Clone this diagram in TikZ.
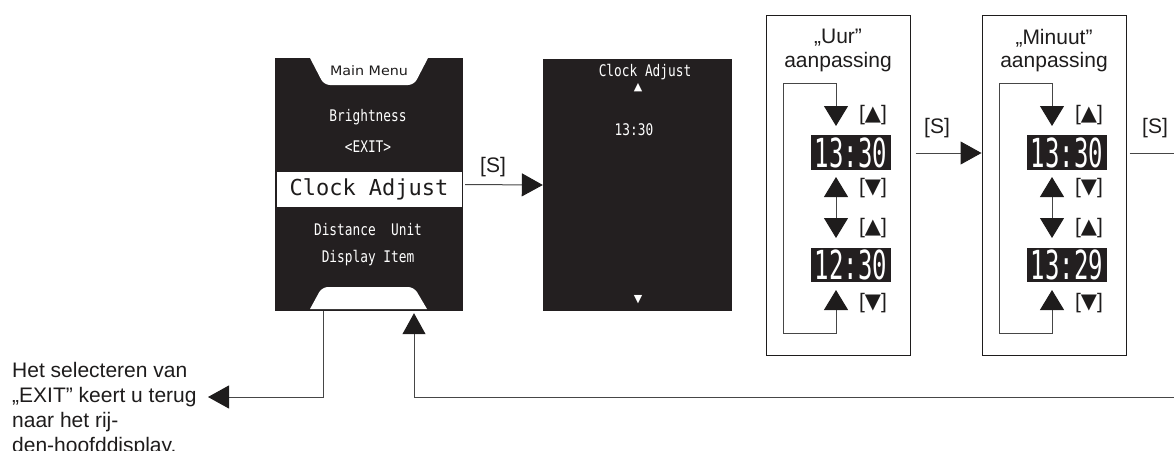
\documentclass[tikz,border=0pt]{standalone}
\usepackage{fontspec}
\setmainfont{Liberation Sans}
\newfontfamily\lcd[FakeStretch=0.8]{DejaVu Sans Mono}
\newfontfamily\lcdn[FakeStretch=0.6]{DejaVu Sans Mono}
\newfontfamily\lcdw{DejaVu Sans Mono}
\newfontfamily\symf{DejaVu Sans}
\newfontfamily\mmf[FakeStretch=1.1]{DejaVu Sans}
\usetikzlibrary{arrows.meta}
\definecolor{scr}{RGB}{35,31,32}
\definecolor{ln}{RGB}{70,70,70}
\definecolor{ink}{RGB}{30,28,28}
\begin{document}
\begin{tikzpicture}[x=1pt,y=-1pt,
  screen/.style={fill=scr,draw=none,inner sep=0,minimum width=188pt,minimum height=253pt},
  frame/.style={draw=ink,line width=1pt,inner sep=0,minimum width=144pt,minimum height=340pt},
  digits/.style={fill=scr,text=white,inner sep=0,minimum width=80pt,minimum height=35pt,font=\lcdn\fontsize{40}{40}\selectfont},
  lcdtxt/.style={text=white,inner sep=0,font=\lcd\fontsize{16}{18}\selectfont},
  tri/.style={text=white,inner sep=0,font=\symf\fontsize{11}{11}\selectfont},
  lbl/.style={text=ink,inner sep=0,font=\fontsize{21}{25}\selectfont},
  wire/.style={draw=ln,line width=1pt},
  big/.style={wire,-{Triangle[length=21pt,width=23pt,color=ink]}},
  dbl/.style={wire,{Triangle[length=20pt,width=24pt,color=ink]}-{Triangle[length=20pt,width=24pt,color=ink]}}]
\useasboundingbox (0,0) rectangle (1174,450);

% main menu screen
\node[screen] (ms) at (369,184.5) {};
\fill[white] (310,58) [rounded corners=6pt]-- (324,85) -- (414,85) [sharp corners]-- (428,58) -- cycle;
\fill[white] (310,309) [rounded corners=6pt]-- (322,287) -- (414,287) [sharp corners]-- (427,309) -- cycle;
\node[font=\mmf\fontsize{13}{13}\selectfont,text=ink,inner sep=0] (mm) at (369,71) {Main Menu};
\node[lcdtxt] (m1) at (368,117) {Brightness};
\node[lcdtxt] (m2) at (368,147) {<EXIT>};
\node[fill=white,minimum width=185pt,minimum height=35pt,inner sep=0,text=ink,font=\lcdw\fontsize{22}{22}\selectfont] (sel) at (369,189.5) {Clock Adjust};
\node[lcdtxt] (m4) at (368,230) {Distance\ \ Unit};
\node[lcdtxt] (m5) at (368,258) {Display Item};

% clock adjust screen
\node[screen,minimum width=189pt,minimum height=252pt] (cs) at (637.5,185) {};
\node[lcdtxt] (c1) at (645,72) {Clock Adjust};
\node[tri] (c2) at (638,88) {▲};
\node[lcdtxt] (c3) at (634,130) {13:30};
\node[tri] (c4) at (638,300) {▼};

\draw[big,shorten <=2pt] (ms.east) -- (cs.west);
\node[lbl] (s1) at (493,167) {[S]};

% adjustment boxes
\node[frame] (ub) at (838,185) {};
\node[frame] (mb) at (1054,185) {};
\node[lbl] (ut1) at (838,38) {„Uur”};
\node[lbl] (ut2) at (838,62) {aanpassing};
\node[lbl] (mt1) at (1054,38) {„Minuut”};
\node[lbl] (mt2) at (1054,62) {aanpassing};

\foreach \dx/\ta/\tb/\nm in {0/13:30/12:30/u, 216/13:30/13:29/m} {
  \node[digits] (\nm d1) at (851+\dx,152.5) {\ta};
  \node[digits,minimum height=34pt] (\nm d2) at (851+\dx,265) {\tb};
  \coordinate (\nm t1) at (836+\dx,126);
  \coordinate (\nm t2) at (836+\dx,177);
  \coordinate (\nm t3) at (836+\dx,238);
  \coordinate (\nm t4) at (836+\dx,290);
  \coordinate (\nm lc) at (783+\dx,83);
  \draw[dbl] (\nm t2) -- (\nm t3);
  \draw[dbl] (\nm t4) -- ++(0,43) -| (\nm lc) -| (\nm t1);
  \node[lbl] (\nm l1) at (873+\dx,115) {[{\symf ▲}]};
  \node[lbl] (\nm l2) at (873+\dx,188) {[{\symf ▼}]};
  \node[lbl] (\nm l3) at (873+\dx,228) {[{\symf ▲}]};
  \node[lbl] (\nm l4) at (873+\dx,303) {[{\symf ▼}]};
}

\coordinate (sy) at (0,153);
\draw[big,shorten <=5pt] (ub.east |- sy) -- (mb.west |- sy);
\node[lbl] (s2) at (937,128) {[S]};
\coordinate (rend) at (1174,153);
\draw[wire,shorten <=3pt] (mb.east |- sy) -- (rend);
\node[lbl] (s3) at (1155,128) {[S]};

% exit / return
\node[lbl,anchor=north west,align=left,font=\fontsize{21}{25}\selectfont] (note) at (12,362)
  {Het selecteren van\\„EXIT” keert u terug\\naar het rij-\\den-hoofddisplay.};
\coordinate (exitTip) at (208,397);
\coordinate (ex) at (323,0);
\draw[big] (ms.south -| ex) |- (exitTip);
\coordinate (rstart) at (1174,397);
\coordinate (rx) at (414,0);
\draw[big,shorten >=2pt] (rstart) -| (ms.south -| rx);
\end{tikzpicture}
\end{document}
